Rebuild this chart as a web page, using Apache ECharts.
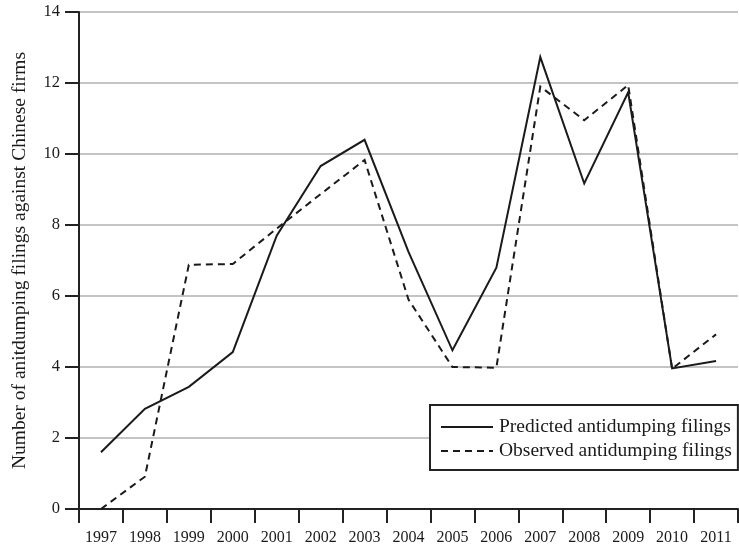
<!DOCTYPE html>
<html>
<head>
<meta charset="utf-8">
<script src="https://cdn.jsdelivr.net/npm/echarts@6/dist/echarts.min.js"></script>
<style>
html,body{margin:0;padding:0;background:#fff;}
#chart{width:739px;height:549px;}
</style>
</head>
<body>
<div id="chart"></div>
<script>
var years = ['1997','1998','1999','2000','2001','2002','2003','2004','2005','2006','2007','2008','2009','2010','2011'];
var predicted = [1.6, 2.82, 3.44, 4.42, 7.7, 9.66, 10.4, 7.24, 4.47, 6.8, 12.73, 9.17, 11.74, 3.96, 4.17];
var observed = [0, 0.91, 6.88, 6.9, 7.9, 8.87, 9.83, 5.9, 4.0, 3.98, 11.9, 10.95, 11.94, 3.95, 4.92];
var yTicks = [0, 2, 4, 6, 8, 10, 12, 14];
var yTitle = 'Number of anitdumping filings against Chinese firms';
var seriesNames = ['Predicted antidumping filings', 'Observed antidumping filings'];

var FONT = '"Liberation Serif", "Times New Roman", serif';
var chart = echarts.init(document.getElementById('chart'), null, {renderer: 'canvas'});
chart.setOption({
  animation: false,
  backgroundColor: '#ffffff',
  textStyle: {fontFamily: FONT, color: '#1a1a1a'},
  grid: {left: 79, right: 1, top: 12, bottom: 40, containLabel: false},
  legend: {
    orient: 'vertical',
    left: 430,
    top: 405,
    width: 308,
    data: seriesNames,
    itemWidth: 52,
    itemHeight: 20,
    itemGap: 4,
    padding: [12, 6, 9, 10],
    borderColor: '#222',
    borderWidth: 2,
    backgroundColor: '#fff',
    itemStyle: {opacity: 0, borderWidth: 0},
    textStyle: {fontFamily: FONT, fontSize: 19.5, color: '#1a1a1a', padding: [0, 0, 0, 1]}
  },
  xAxis: {
    type: 'category',
    data: years,
    boundaryGap: true,
    axisLine: {show: true, lineStyle: {color: '#222', width: 2}},
    axisTick: {show: true, length: 14, alignWithLabel: false, lineStyle: {color: '#222', width: 2}},
    axisLabel: {fontFamily: FONT, fontSize: 16, color: '#1a1a1a', margin: 21, interval: 0},
    splitLine: {show: false}
  },
  yAxis: {
    type: 'value',
    min: yTicks[0],
    max: yTicks[yTicks.length - 1],
    interval: 2,
    name: yTitle,
    nameLocation: 'middle',
    nameGap: 49,
    nameTextStyle: {fontFamily: FONT, fontSize: 19.5, color: '#1a1a1a'},
    axisLine: {show: true, lineStyle: {color: '#222', width: 2}},
    axisTick: {show: true, length: 14, lineStyle: {color: '#222', width: 2}},
    axisLabel: {fontFamily: FONT, fontSize: 16.5, color: '#1a1a1a', margin: 19},
    splitLine: {show: true, lineStyle: {color: '#c4c4c4', width: 2}}
  },
  series: [
    {
      name: seriesNames[0],
      type: 'line',
      data: predicted,
      symbol: 'none',
      smooth: false,
      lineStyle: {color: '#1a1a1a', width: 2, type: 'solid', join: 'miter'},
      itemStyle: {color: '#1a1a1a'},
      z: 3
    },
    {
      name: seriesNames[1],
      type: 'line',
      data: observed,
      symbol: 'none',
      smooth: false,
      lineStyle: {color: '#1a1a1a', width: 2, type: [7, 5], join: 'miter'},
      itemStyle: {color: '#1a1a1a'},
      z: 2
    }
  ]
});
</script>
</body>
</html>
